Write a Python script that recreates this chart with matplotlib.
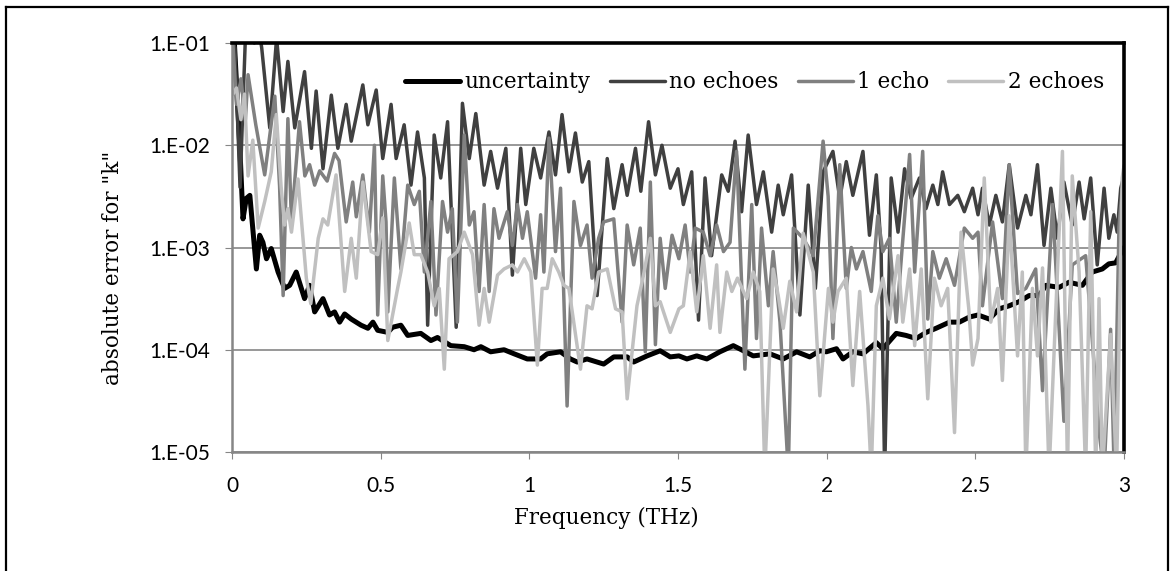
import matplotlib
matplotlib.use("Agg")
import matplotlib.pyplot as plt
from matplotlib.lines import Line2D
import numpy as np

# values: frequency (THz) and log10(absolute error)
unc_f = [0.008, 0.026, 0.037, 0.048, 0.060, 0.082, 0.093, 0.104, 0.116, 0.132, 0.155, 0.177,
         0.194, 0.216, 0.244, 0.261, 0.278, 0.306, 0.328, 0.345, 0.362, 0.379, 0.401, 0.434,
         0.457, 0.474, 0.490, 0.524, 0.540, 0.568, 0.591, 0.635, 0.669, 0.691, 0.736, 0.781,
         0.814, 0.837, 0.870, 0.915, 0.949, 0.993, 1.038, 1.060, 1.105, 1.138, 1.161, 1.194,
         1.250, 1.284, 1.329, 1.351, 1.396, 1.440, 1.474, 1.503, 1.530, 1.563, 1.597, 1.641,
         1.686, 1.720, 1.753, 1.809, 1.854, 1.899, 1.943, 1.977, 1.999, 2.033, 2.055, 2.088,
         2.122, 2.167, 2.189, 2.234, 2.267, 2.301, 2.335, 2.368, 2.413, 2.446, 2.480, 2.509,
         2.547, 2.580, 2.614, 2.647, 2.681, 2.715, 2.737, 2.782, 2.815, 2.860, 2.893, 2.927,
         2.949, 2.972, 2.990, 3.000]
unc_log = [-1.0, -2.0, -2.72, -2.52, -2.49, -3.21, -2.88, -2.95, -3.11, -3.01, -3.24, -3.40,
           -3.37, -3.24, -3.50, -3.37, -3.63, -3.50, -3.66, -3.63, -3.73, -3.65, -3.70, -3.76,
           -3.79, -3.73, -3.81, -3.83, -3.78, -3.76, -3.86, -3.84, -3.91, -3.88, -3.96, -3.97,
           -4.00, -3.97, -4.02, -4.00, -4.04, -4.09, -4.09, -4.04, -4.02, -4.09, -4.12, -4.09,
           -4.14, -4.07, -4.07, -4.12, -4.06, -4.01, -4.07, -4.06, -4.09, -4.06, -4.09, -4.02,
           -3.96, -4.01, -4.06, -4.04, -4.09, -4.02, -4.07, -4.01, -4.02, -3.99, -4.09, -4.02,
           -4.04, -3.93, -3.99, -3.84, -3.86, -3.89, -3.83, -3.79, -3.73, -3.73, -3.68, -3.66,
           -3.70, -3.60, -3.57, -3.53, -3.47, -3.47, -3.37, -3.39, -3.34, -3.37, -3.24, -3.21,
           -3.16, -3.15, -3.05, -3.0]

noecho_f = [0.005, 0.010, 0.027, 0.045, 0.060, 0.075, 0.095, 0.100, 0.127, 0.150, 0.172, 0.188,
            0.211, 0.244, 0.267, 0.283, 0.306, 0.334, 0.356, 0.384, 0.401, 0.440, 0.457, 0.485,
            0.507, 0.535, 0.552, 0.579, 0.602, 0.624, 0.647, 0.658, 0.680, 0.702, 0.725, 0.754,
            0.775, 0.798, 0.820, 0.848, 0.870, 0.893, 0.921, 0.943, 0.971, 0.988,
            1.015, 1.038, 1.066, 1.088, 1.110, 1.133, 1.155, 1.178, 1.200, 1.228, 1.262, 1.284,
            1.312, 1.329, 1.357, 1.375, 1.401, 1.424, 1.446, 1.474, 1.500,
            1.518, 1.546, 1.569, 1.591, 1.613, 1.647, 1.669, 1.692, 1.714, 1.736, 1.764, 1.787,
            1.815, 1.837, 1.854, 1.882, 1.910, 1.938, 1.962, 1.988,
            2.021, 2.044, 2.066, 2.088, 2.122, 2.144, 2.167, 2.183, 2.195, 2.217, 2.240, 2.262,
            2.284, 2.312, 2.334, 2.357, 2.374, 2.390, 2.413, 2.441, 2.463, 2.491, 2.509,
            2.524, 2.547, 2.569, 2.591, 2.614, 2.642, 2.670, 2.687, 2.709, 2.731, 2.754, 2.776,
            2.798, 2.826, 2.849, 2.866, 2.888, 2.910, 2.933, 2.949, 2.966, 2.977, 2.989, 3.000]
noecho_log = [-1.0, -1.05, -2.41, -0.95, -0.95, -1.0, -0.95, -1.05, -1.83, -0.95, -1.67, -1.18,
              -1.83, -1.28, -2.03, -1.47, -2.23, -1.51, -2.03, -1.60, -1.96, -1.41, -1.80, -1.46,
              -2.13, -1.60, -2.13, -1.80, -2.39, -1.87, -2.32, -3.76, -1.90, -2.32, -1.77, -3.78,
              -1.59, -2.13, -1.69, -2.39, -2.06, -2.42, -2.03, -3.27, -2.03, -2.58,
              -2.03, -2.32, -1.87, -2.29, -1.70, -2.26, -1.88, -2.36, -2.16, -3.47, -2.13, -2.62,
              -2.19, -2.49, -2.03, -2.45, -1.77, -2.29, -2.00, -2.42, -2.23,
              -2.58, -2.26, -3.71, -2.32, -3.08, -2.29, -2.45, -1.96, -2.65, -1.90, -2.58, -2.26,
              -2.85, -2.39, -2.68, -2.29, -3.66, -2.39, -3.40, -2.26,
              -2.06, -2.52, -2.16, -2.49, -2.06, -2.88, -2.29, -3.01, -5.2, -2.32, -2.85, -2.23,
              -2.52, -2.32, -2.62, -2.39, -2.58, -2.26, -2.58, -2.49, -2.65, -2.42, -2.68,
              -2.42, -2.78, -2.49, -2.75, -2.19, -2.81, -2.49, -2.68, -2.19, -2.98, -2.42, -2.91,
              -2.36, -2.78, -2.36, -2.72, -2.32, -3.17, -2.42, -2.91, -2.68, -2.85, -2.42, -2.30]

echo1_f = [0.003, 0.015, 0.030, 0.045, 0.054, 0.080, 0.110, 0.144, 0.160, 0.172, 0.188, 0.200,
           0.227, 0.245, 0.261, 0.278, 0.295, 0.320, 0.345, 0.360, 0.384, 0.406, 0.418, 0.440,
           0.462, 0.479, 0.490,
           0.507, 0.518, 0.524, 0.546, 0.568, 0.591, 0.613, 0.630, 0.647, 0.669, 0.686, 0.708,
           0.725, 0.741, 0.758, 0.781, 0.798, 0.814, 0.831, 0.848, 0.865, 0.881, 0.898, 0.926,
           0.943, 0.960, 0.977, 0.993,
           1.021, 1.038, 1.049, 1.066, 1.088, 1.105, 1.127, 1.150, 1.172, 1.194, 1.211, 1.233,
           1.250, 1.284, 1.312, 1.329, 1.351, 1.373, 1.390, 1.407, 1.424, 1.440, 1.457, 1.480,
           1.503,
           1.524, 1.541, 1.558, 1.585, 1.608, 1.630, 1.653, 1.675, 1.697, 1.725, 1.748, 1.764,
           1.781, 1.804, 1.820, 1.843, 1.871, 1.888, 1.921, 1.955, 1.988,
           2.005, 2.021, 2.044, 2.066, 2.083, 2.100, 2.122, 2.150, 2.172, 2.189, 2.211, 2.234,
           2.279, 2.296, 2.323, 2.340, 2.357, 2.379, 2.402, 2.430, 2.463, 2.491, 2.509,
           2.524, 2.558, 2.591, 2.614, 2.642, 2.670, 2.703, 2.726, 2.760, 2.798, 2.826, 2.871,
           2.893, 2.916, 2.933, 2.955, 2.967, 2.983, 2.994, 3.000]
echo1_log = [-1.0, -1.6, -1.35, -1.75, -1.31, -1.80, -2.29, -1.52, -2.40, -3.47, -1.74, -2.75,
             -1.77, -2.30, -2.19, -2.39, -2.25, -2.35, -2.08, -2.15, -2.75, -2.36, -2.70, -2.29,
             -2.85, -2.00, -3.66,
             -2.30, -2.75, -3.63, -2.32, -3.21, -2.39, -2.58, -2.45, -3.24, -2.55, -3.66, -2.55,
             -2.85, -2.62, -3.73, -1.90, -2.78, -2.65, -3.43, -2.58, -3.43, -2.62, -2.91, -2.65,
             -2.98, -2.58, -2.91, -2.65,
             -3.30, -2.68, -3.24, -1.93, -3.04, -2.42, -4.55, -2.55, -2.98, -2.78, -3.30, -2.91,
             -2.75, -2.72, -3.73, -2.78, -3.17, -2.81, -4.02, -2.36, -3.95, -2.91, -3.40, -2.88,
             -3.11,
             -2.78, -3.24, -2.81, -2.85, -3.08, -2.78, -3.04, -2.95, -2.06, -4.19, -2.58, -3.89,
             -2.81, -3.57, -3.04, -3.73, -5.2, -2.81, -2.91, -3.08, -1.96,
             -2.50, -3.89, -2.19, -3.40, -3.00, -3.21, -3.04, -3.43, -2.69, -3.04, -2.91, -3.73,
             -2.09, -3.24, -2.06, -3.70, -3.04, -3.30, -3.11, -3.37, -2.81, -2.91, -2.85,
             -3.57, -2.75, -3.50, -2.19, -3.45, -3.40, -3.21, -4.40, -2.58, -4.70, -3.17, -3.08,
             -3.89, -4.80, -5.2, -3.80, -5.2, -2.80, -2.42, -2.50]

echo2_f = [0.003, 0.015, 0.030, 0.042, 0.054, 0.070, 0.088, 0.110, 0.132, 0.149, 0.165, 0.177,
           0.188, 0.200, 0.222, 0.250, 0.265, 0.290, 0.306, 0.322, 0.350, 0.379, 0.401, 0.418,
           0.440, 0.468, 0.490,
           0.507, 0.524, 0.557, 0.568, 0.596, 0.613, 0.635, 0.658, 0.680, 0.697, 0.714, 0.730,
           0.758, 0.781, 0.809, 0.831, 0.848, 0.865, 0.893, 0.915, 0.943, 0.960, 0.983,
           1.005, 1.027, 1.043, 1.060, 1.077, 1.099, 1.116, 1.133, 1.172, 1.194, 1.211, 1.233,
           1.262, 1.290, 1.312, 1.329, 1.362, 1.384, 1.407, 1.424, 1.440, 1.474, 1.503,
           1.518, 1.541, 1.563, 1.585, 1.608, 1.630, 1.641, 1.664, 1.681, 1.700, 1.731, 1.753,
           1.775, 1.792, 1.820, 1.837, 1.854, 1.876, 1.899, 1.921, 1.955, 1.977, 2.006,
           2.021, 2.038, 2.066, 2.088, 2.111, 2.139, 2.150, 2.167, 2.189, 2.211, 2.240, 2.256,
           2.279, 2.296, 2.318, 2.340, 2.362, 2.385, 2.407, 2.430, 2.452, 2.478, 2.491, 2.509,
           2.530, 2.552, 2.575, 2.591, 2.614, 2.642, 2.658, 2.670, 2.692, 2.709, 2.726, 2.748,
           2.793, 2.810, 2.826, 2.849, 2.871, 2.888, 2.905, 2.916, 2.927, 2.955, 2.975, 2.994,
           3.000]
echo2_log = [-1.5, -1.44, -1.75, -1.50, -2.30, -1.95, -2.81, -2.55, -2.26, -1.70, -2.40, -2.78,
             -2.62, -2.85, -2.33, -3.30, -3.55, -2.91, -2.72, -2.78, -2.29, -3.43, -2.91, -3.30,
             -2.36, -3.04, -3.07,
             -2.71, -3.91, -3.40, -3.24, -2.76, -3.07, -3.07, -3.24, -3.57, -3.40, -4.19, -3.11,
             -3.04, -2.85, -3.07, -3.76, -3.40, -3.73, -3.27, -3.21, -3.17, -3.24, -3.11,
             -3.24, -4.15, -3.40, -3.40, -3.11, -3.24, -3.37, -3.40, -4.19, -3.57, -3.60, -3.24,
             -3.21, -3.60, -3.63, -4.48, -3.57, -3.27, -2.91, -3.57, -3.53, -3.83, -3.60,
             -3.57, -3.04, -3.63, -3.08, -3.79, -3.17, -3.83, -3.24, -3.43, -3.30, -3.50, -3.24,
             -3.43, -5.2, -3.21, -3.47, -3.79, -3.33, -3.63, -2.86, -3.24, -4.45, -3.40,
             -3.73, -3.43, -3.30, -4.35, -3.43, -4.55, -5.2, -3.57, -3.30, -3.70, -3.08, -3.73,
             -3.21, -3.96, -3.21, -4.48, -3.30, -3.57, -3.40, -4.81, -2.85, -3.60, -4.15, -3.89,
             -2.32, -3.73, -3.40, -4.30, -2.69, -4.06, -3.24, -5.2, -3.40, -4.06, -3.20, -5.2,
             -2.06, -5.2, -2.30, -3.24, -5.2, -2.65, -5.2, -3.50, -5.2, -3.85, -5.2, -2.32,
             -2.20]

series = [
    ("uncertainty", unc_f, unc_log, "#000000", 3.6),
    ("no echoes", noecho_f, noecho_log, "#404040", 2.5),
    ("1 echo", echo1_f, echo1_log, "#808080", 2.5),
    ("2 echoes", echo2_f, echo2_log, "#c0c0c0", 2.5),
]

y_ticks = [1e-5, 1e-4, 1e-3, 1e-2, 1e-1]
y_labels = ["1.E-05", "1.E-04", "1.E-03", "1.E-02", "1.E-01"]
x_ticks = [0, 0.5, 1, 1.5, 2, 2.5, 3]
x_labels = ["0", "0.5", "1", "1.5", "2", "2.5", "3"]

serif = "DejaVu Serif"
sans = "Lato"

fig = plt.figure(figsize=(11.71, 5.71), dpi=100)
ax = fig.add_axes([232 / 1171, 1 - 452 / 571, 892 / 1171, 409 / 571])

for label, f, lg, color, lw in series:
    ax.plot(f, np.power(10.0, lg), color=color, lw=lw, label=label,
            solid_joinstyle="round", solid_capstyle="round")

ax.set_yscale("log")
ax.set_xlim(0, 3)
ax.set_ylim(1e-5, 1e-1)
ax.set_yticks(y_ticks)
ax.set_yticklabels(y_labels, fontfamily=sans, fontsize=15)
ax.yaxis.set_minor_locator(matplotlib.ticker.NullLocator())
ax.set_xticks(x_ticks)
ax.set_xticklabels(x_labels, fontfamily=sans, fontsize=15)
ax.tick_params(axis="both", direction="out", length=5, color="#868686")
ax.tick_params(axis="y", pad=11)
ax.tick_params(axis="x", pad=12)
ax.grid(axis="y", color="#868686", lw=1.2)
ax.set_axisbelow(True)

for side in ["left", "bottom"]:
    ax.spines[side].set_color("#868686")
    ax.spines[side].set_linewidth(1.8)
for side in ["top", "right"]:
    ax.spines[side].set_color("black")
    ax.spines[side].set_linewidth(2.6)

# axis titles sit a little off-centre in the original
ax.set_xlabel("Frequency (THz)", fontfamily=serif, fontsize=15.5, va="center")
ax.xaxis.set_label_coords((606 - 232) / 892, (452 - 518) / 409)
ax.set_ylabel('absolute error for "k"', fontfamily=serif, fontsize=15.5, va="center")
ax.yaxis.set_label_coords((113 - 232) / 892, (452 - 268) / 409)

leg = ax.legend(loc="upper right", bbox_to_anchor=(0.992, 0.962), ncol=4, frameon=False,
                prop={"family": serif, "size": 15.5}, handlelength=2.55, handletextpad=0.2,
                columnspacing=0.9, borderaxespad=0.2)

# outer frame of the figure
for xs, ys in [((6, 6), (0, 564)), ((6, 1168), (564, 564)), ((1168, 1168), (0, 564))]:
    fig.add_artist(Line2D([x / 1171 for x in xs], [y / 571 for y in ys],
                          color="black", lw=1.6))

fig.savefig("out.png", dpi=100)
